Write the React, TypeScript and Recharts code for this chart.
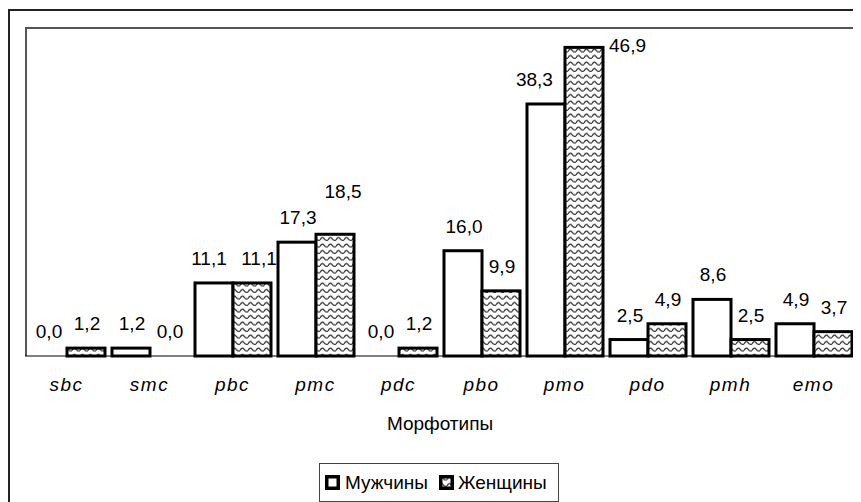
import React from "react";
import { BarChart, Bar, XAxis, YAxis } from "recharts";

// morphotypes on the x axis
const categories = ["sbc", "smc", "pbc", "pmc", "pdc", "pbo", "pmo", "pdo", "pmh", "emo"];
// percentages
const menValues = [0.0, 1.2, 11.1, 17.3, 0.0, 16.0, 38.3, 2.5, 8.6, 4.9];
const womenValues = [1.2, 0.0, 11.1, 18.5, 1.2, 9.9, 46.9, 4.9, 2.5, 3.7];
const seriesNames = ["Мужчины", "Женщины"];
const axisTitle = "Морфотипы";

const data = categories.map((name, i) => ({
    name,
    men: menValues[i],
    women: womenValues[i],
}));

const FONT = '"Liberation Sans", Arial, sans-serif';
const PLOT_TOP = 19;
const LABEL_GAP = 18;

const fmt = (v: number) => Number(v).toFixed(1).replace(".", ",");
const textW = (v: number) => fmt(v).split("").reduce((w, c) => w + (c === "," ? 5.3 : 10.6), 0);

type Pos = { x: number; y: number; anchor: "start" | "middle" | "end" };

// work out both labels of a category together so they don't collide
const labelPositions = (menBx: number, bw: number, menTop: number, womenTop: number, men: number, women: number) => {
    const wM = textW(men);
    const wW = textW(women);
    const menSide = menTop - LABEL_GAP - 14 < PLOT_TOP;
    const womenSide = womenTop - LABEL_GAP - 14 < PLOT_TOP;
    let mx = menBx + bw / 2 + 1;
    let wx = menBx + bw * 1.5 + 1;
    let my = menTop - LABEL_GAP;
    let wy = womenTop - LABEL_GAP;

    if (!menSide && !womenSide) {
        const overlapX = wx - mx < (wM + wW) / 2 + 4;
        const dy = Math.abs(my - wy);
        if (overlapX && dy < 16) {
            if (dy < 4) {
                mx -= 6;
                wx += 6;
            } else if (wy < my) {
                wy -= LABEL_GAP;
                wx += 7;
            } else {
                my -= LABEL_GAP;
                mx -= 7;
            }
        }
    }
    // men label running into a taller women bar
    if (!menSide && womenTop < my && mx + wM / 2 > menBx + bw - 2) {
        mx = menBx + bw - 12 - wM / 2;
    }
    // women label running into a taller men bar
    if (!womenSide && menTop < wy && wx - wW / 2 < menBx + bw + 2) {
        wx = menBx + bw + 12 + wW / 2;
    }
    const m: Pos = menSide ? { x: menBx + bw + 6, y: menTop + 5, anchor: "start" } : { x: mx, y: my, anchor: "middle" };
    const w: Pos = womenSide ? { x: menBx + 2 * bw + 6, y: womenTop + 5, anchor: "start" } : { x: wx, y: wy, anchor: "middle" };
    return { m, w };
};

// bar + its value label; zero bars draw no rect but still get "0,0"
const makeShape = (key: "men" | "women") => (props: any) => {
    const { x, y, width, height, fill, stroke, strokeWidth, payload, background } = props;
    const bx = Number(x);
    const by = Number(y);
    const bw = Number(width);
    const bh = Number(height);
    const base = by + bh;
    // pixels per unit taken from the plot band Recharts gives the bar
    const plotH = background ? Number(background.height) : 329;
    const k = plotH / 50;
    const men = payload.men;
    const women = payload.women;
    const menBx = key === "men" ? bx : bx - bw;
    const { m, w } = labelPositions(menBx, bw, base - men * k, base - women * k, men, women);
    const p = key === "men" ? m : w;
    const value = key === "men" ? men : women;
    return (
        <g>
            {bh > 0 && <rect x={bx} y={by} width={bw} height={bh} fill={fill} stroke={stroke} strokeWidth={strokeWidth} />}
            <text x={p.x} y={p.y} textAnchor={p.anchor} fontSize={19} fill="#000" fontFamily={FONT}>
                {fmt(value)}
            </text>
        </g>
    );
};

const WavePattern = () => (
    <svg width={0} height={0} style={{ position: "absolute" }}>
        <defs>
            <pattern id="wave" patternUnits="userSpaceOnUse" width={8} height={6.5}>
                <rect width={8} height={6.5} fill="#fff" />
                <path d="M0,4.5 Q2,0.5 4,3.2 T8,4.5" fill="none" stroke="#333" strokeWidth={1.3} />
            </pattern>
        </defs>
    </svg>
);

const App: React.FC = () => {
    return (
        <div style={{ position: "relative", width: 853, height: 494, fontFamily: FONT }}>
            <WavePattern />
            {/* chart area border */}
            <div style={{ position: "absolute", left: 0, top: 1, width: 853, height: 493, borderLeft: "2px solid #222", borderTop: "2px solid #222", boxSizing: "border-box" }} />
            {/* plot area border */}
            <div style={{ position: "absolute", left: 17, top: 19, width: 830, height: 329, border: "2px solid #555", borderBottom: "none", boxSizing: "border-box" }} />

            <div style={{ position: "absolute", left: 0, top: 0 }}>
                <BarChart
                    width={853}
                    height={494}
                    data={data}
                    margin={{ top: 19, right: 6, bottom: 56, left: 17 }}
                    barCategoryGap={4}
                    barGap={0}
                >
                    <XAxis
                        dataKey="name"
                        height={90}
                        tickSize={0}
                        tickMargin={22}
                        tickLine={false}
                        interval={0}
                        axisLine={{ stroke: "#000", strokeWidth: 1 }}
                        tick={{ fontSize: 19, fontStyle: "italic", fill: "#000", fontFamily: FONT, letterSpacing: 1.5 }}
                        label={{ value: axisTitle, position: "insideBottom", offset: 16, fontSize: 19, fill: "#000", fontFamily: FONT }}
                    />
                    <YAxis hide domain={[0, 50]} />
                    <Bar dataKey="men" name={seriesNames[0]} fill="#fff" stroke="#000" strokeWidth={3} isAnimationActive={false} shape={makeShape("men")} />
                    <Bar dataKey="women" name={seriesNames[1]} fill="url(#wave)" stroke="#000" strokeWidth={3} isAnimationActive={false} shape={makeShape("women")} />
                </BarChart>
            </div>

            {/* legend */}
            <div
                style={{
                    position: "absolute",
                    left: 311,
                    top: 455,
                    width: 240,
                    height: 39,
                    border: "1px solid #444",
                    boxSizing: "border-box",
                    display: "flex",
                    alignItems: "center",
                    paddingLeft: 5,
                    fontSize: 19,
                    color: "#000",
                    background: "#fff",
                }}
            >
                <svg width={15} height={15} style={{ marginRight: 5 }}>
                    <rect x={1.75} y={1.75} width={11.5} height={11.5} fill="#fff" stroke="#000" strokeWidth={3.5} />
                </svg>
                <span>{seriesNames[0]}</span>
                <svg width={15} height={15} style={{ marginLeft: 11, marginRight: 4 }}>
                    <rect x={1.75} y={1.75} width={11.5} height={11.5} fill="url(#wave)" stroke="#000" strokeWidth={3.5} />
                </svg>
                <span>{seriesNames[1]}</span>
            </div>
        </div>
    );
};

export default App;
